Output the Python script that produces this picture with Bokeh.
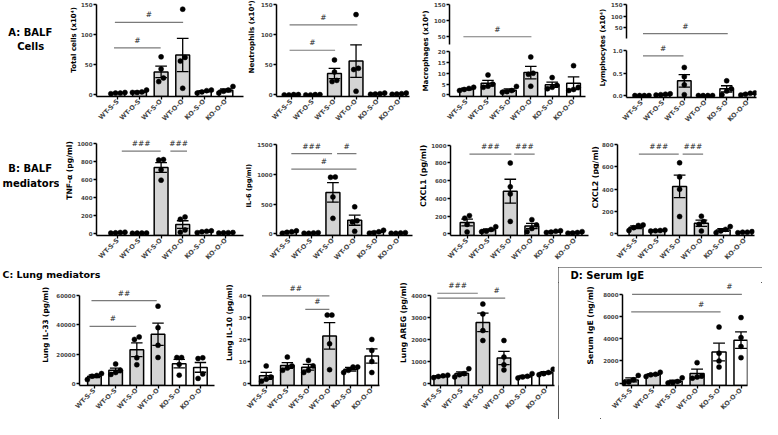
import math
from bokeh.plotting import figure
from bokeh.models import Range1d, FixedTicker, NumeralTickFormatter
from bokeh.layouts import row, column
from bokeh.embed import file_html
from bokeh.resources import INLINE
from bokeh.core.properties import value

# ---------------- data ----------------
categories = ["WT-S-S", "WT-O-S", "WT-S-O", "WT-O-O", "KO-S-O", "KO-O-O"]
is_ko = [False, False, False, False, True, True]

total_mean = [3, 5, 38, 66, 6, 7.5]
total_sem = [0.5, 1, 9.5, 27.5, 1, 2.3]
total_pts = [[2, 3, 3, 4], [4, 4, 5, 8], [63, 43, 28, 22], [142, 62, 56, 11], [3, 5, 7, 8], [3, 6, 8, 14]]
total_ticks = [0, 50, 100, 150]
total_sig = [(-0.18, 1.98, 78, "#", None), (-0.14, 3.02, 120, "#", None)]

neut_mean = [0.3, 0.3, 35.5, 56, 2, 2]
neut_sem = [0.1, 0.1, 8.5, 27, 0.5, 0.5]
neut_pts = [[0, 0.5, 0.5, 0], [0, 0.5, 0, 0.5], [58, 38, 24, 22], [133, 44, 42, 6], [1, 3, 2, 1.5], [2, 1, 3, 1.5]]
neut_ticks = [0, 50, 100, 150]
neut_sig = [(-0.08, 2.03, 74, "#", None), (-0.08, 3.06, 116, "#", None)]

macro_mean = [2.7, 5.4, 2.2, 10.3, 4.7, 5.4]
macro_sem = [0.4, 1.3, 0.6, 2.9, 1.2, 2.9]
macro_pts = [[3.5, 2.5, 3, 2], [9.2, 5, 4, 3.5], [3.9, 2, 1.5, 1.2], [17.5, 10, 9.5, 4], [8, 4.5, 3.5, 2.8], [13.5, 3.5, 2.5, 2]]
macro_ticks = [0, 5, 10, 15, 20]
macro_ticks_upper = [50, 100, 150]
macro_sig = []
macro_sig_upper = [(-0.15, 3.03, 48, "#", None)]

lymph_mean = [0.0, 0.02, 0.33, 0.0, 0.15, 0.04]
lymph_sem = [0.0, 0.01, 0.14, 0.0, 0.07, 0.01]
lymph_pts = [[0, 0, 0, 0], [0.02, 0.03, 0.01, 0.04], [0.63, 0.42, 0.24, 0.02], [0, 0, 0, 0], [0.33, 0.15, 0.1, 0.02], [0.06, 0.03, 0.01, 0.05]]
lymph_ticks = [0.0, 0.5, 1.0]
lymph_ticks_upper = [50, 100, 150]
lymph_sig = [(0.05, 1.96, 0.89, "#", None)]
lymph_sig_upper = [(0.05, 4.05, 25, "#", None)]

tnf_mean = [10, 5, 737, 100, 21, 9]
tnf_sem = [3, 1, 54, 43, 5, 2]
tnf_pts = [[15, 12, 8, 5], [5, 5, 4, 6], [825, 820, 710, 595], [160, 185, 40, 15], [30, 20, 25, 10], [10, 8, 12, 5]]
tnf_ticks = [0, 200, 400, 600, 800, 1000]
tnf_sig = [(0.18, 1.98, 919, "###", None), (2.43, 3.2, 919, "###", None)]

il6_mean = [30, 14, 696, 229, 32, 14]
il6_sem = [9, 3, 164, 85, 10, 3]
il6_pts = [[50, 35, 25, 10], [20, 15, 10, 10], [955, 950, 620, 260], [453, 220, 200, 42], [60, 35, 20, 12], [20, 15, 10, 10]]
il6_ticks = [0, 500, 1000, 1500]
il6_sig = [(0.09, 1.96, 1347, "###", None), (2.19, 3.08, 1347, "#", None), (0.09, 3.08, 1088, "#", None)]

cxcl1_mean = [127, 45, 480, 88, 25, 15]
cxcl1_sem = [38, 12, 135, 30, 6, 4]
cxcl1_pts = [[177, 205, 106, 21], [80, 50, 30, 25], [798, 530, 450, 140], [160, 100, 60, 25], [35, 30, 20, 15], [25, 15, 10, 8]]
cxcl1_ticks = [0, 200, 400, 600, 800, 1000]
cxcl1_sig = [(0.11, 2.05, 897, "###", None), (2.18, 3.13, 897, "###", None)]

cxcl2_mean = [60, 30, 425, 95, 35, 15]
cxcl2_sem = [12, 3, 100, 28, 12, 3]
cxcl2_pts = [[80, 75, 55, 30], [35, 30, 28, 25], [636, 510, 400, 155], [158, 110, 85, 25], [65, 40, 25, 10], [20, 15, 15, 10]]
cxcl2_ticks = [0, 200, 400, 600, 800]
cxcl2_sig = [(0.13, 1.96, 714, "###", None), (2.14, 3.08, 714, "###", None)]

il33_mean = [5000, 9000, 23000, 33500, 13500, 11000]
il33_sem = [900, 1500, 4700, 7500, 2900, 3300]
il33_pts = [[6800, 5500, 5000, 2700], [13300, 9000, 7500, 6200], [31700, 30000, 17500, 12800], [52600, 38000, 26000, 17700], [17700, 17700, 13000, 5700], [17500, 17000, 6500, 3500]]
il33_ticks = [0, 20000, 40000, 60000]
il33_sig = [(-0.23, 1.97, 38900, "#", None), (-0.14, 2.94, 56300, "##", None)]

il10_mean = [3.5, 8.2, 7.4, 21.6, 6.5, 12.5]
il10_sem = [1.6, 1.3, 1.3, 6.0, 0.8, 3.2]
il10_pts = [[8, 3, 2, 1], [12, 8, 7, 6], [10.5, 8, 6, 5], [31, 31, 18, 6.3], [7.5, 7.5, 6, 5], [20, 15, 10, 5]]
il10_ticks = [0, 10, 20, 30, 40]
il10_sig = [(-0.2, 2.99, 39.7, "##", None), (1.85, 2.99, 33.6, "#", None)]

areg_mean = [330, 454, 2770, 1160, 330, 500]
areg_sem = [30, 75, 420, 300, 45, 45]
areg_pts = [[380, 350, 320, 270], [670, 450, 400, 300], [3600, 3150, 2400, 1950], [1950, 1200, 850, 620], [450, 330, 300, 250], [650, 500, 450, 400]]
areg_ticks = [0, 1000, 2000, 3000, 4000]
areg_sig = [(-0.16, 1.76, 4090, "###", None), (-0.16, 3.06, 3870, "#", 2.65)]

ige_mean = [290, 780, 175, 870, 2800, 3870]
ige_sem = [180, 70, 90, 400, 800, 740]
ige_pts = [[700, 300, 100, 60], [980, 800, 750, 600], [480, 150, 50, 20], [1850, 650, 550, 450], [5050, 2700, 2000, 1450], [5900, 4100, 3300, 2300]]
ige_ticks = [0, 2000, 4000, 6000, 8000]
ige_sig = [(0.0, 4.07, 6410, "#", 3.19), (0.04, 5.04, 8000, "#", 4.47)]

# ---------------- layout geometry (reference pixels) ----------------
geom = {
    "total": dict(x0=60, x1=250, r0=0, r1=140, axis=97, end=248, c0=119, c5=230, y0=98, ytop=4, ymax=150, lcx=83, lcy=57.5, lfs=7.0),
    "neut": dict(x0=250, x1=422, r0=0, r1=140, axis=281, end=418, c0=296, c5=407, y0=98, ytop=4, ymax=150, lcx=256, lcy=53, lfs=7.1),
    "macro": dict(x0=422, x1=601, r0=0, r1=140, axis=457, end=597, c0=475, c5=585, y0=98, ytop=53, ymax=20,
                  up50=37, up150=4, seg_lo=23, split=49, lcx=433.5, lcy=52.5, lfs=7.2),
    "lymph": dict(x0=601, x1=778, r0=0, r1=140, axis=638, end=772, c0=654, c5=763, y0=98.7, ytop=52.3, ymax=1.0,
                  up50=28.3, up150=4, seg_lo=5, split=43, lcx=615.5, lcy=49, lfs=7.0),
    "tnf": dict(x0=60, x1=250, r0=140, r1=277, axis=97, end=248, c0=119, c5=230, y0=244, ytop=149, ymax=1000, lcx=73, lcy=188, lfs=7.6),
    "il6": dict(x0=250, x1=425, r0=140, r1=277, axis=281, end=421, c0=294, c5=406, y0=244.3, ytop=149.7, ymax=1500, lcx=252, lcy=209, lfs=6.6),
    "cxcl1": dict(x0=425, x1=602, r0=140, r1=277, axis=458, end=600, c0=475.5, c5=586.5, y0=244.3, ytop=150.3, ymax=1000, lcx=432.5, lcy=195.5, lfs=7.8),
    "cxcl2": dict(x0=602, x1=778, r0=140, r1=277, axis=629, end=770, c0=648, c5=760, y0=244.3, ytop=149.7, ymax=800, lcx=606, lcy=197.5, lfs=7.8),
    "il33": dict(x0=0, x1=222, r0=292, r1=435, axis=80, end=218, c0=95, c5=204, y0=397.7, ytop=306, ymax=60000, lcx=46, lcy=351.5, lfs=7.3),
    "il10": dict(x0=222, x1=395, r0=277, r1=435, axis=253, end=387, c0=269.5, c5=379, y0=397.7, ytop=306, ymax=40, lcx=233.5, lcy=351, lfs=7.4),
    "areg": dict(x0=395, x1=570, r0=277, r1=435, axis=438, end=566, c0=448.5, c5=557, y0=397.7, ytop=306, ymax=4000, lcx=422, lcy=351, lfs=7.6),
    "ige": dict(x0=570, x1=778, r0=293, r1=435, axis=634, end=763, c0=643, c5=756, y0=397.3, ytop=305, ymax=8000, lcx=602.5, lcy=352, lfs=7.7),
}

FONT = "DejaVu Sans"
WT_FILL = "#d4d4d4"
KO_FILL = "#ffffff"
SIG_COLOR = "#7a7a7a"
SX = 762 / 778
SY = 419 / 435
PAD = 2.0
DOT = 5.0
BAR_W = 0.64
CAP = 0.27
TICK_FS = 5.5
XLAB_FS = "6.5px"
DIGIT_EM = 0.696
DOT_EM = 0.380


def swarm(vals, k, s):
    order = sorted(range(len(vals)), key=lambda j: vals[j])
    clusters = [[order[0]]]
    for j in order[1:]:
        if (vals[j] - vals[clusters[-1][-1]]) * k < DOT:
            clusters[-1].append(j)
        else:
            clusters.append([j])
    offs = [0.0] * len(vals)
    for cl in clusters:
        n = len(cl)
        for m, j in enumerate(cl):
            offs[j] = (m - (n - 1) / 2) * DOT * 0.95 / s
    return offs


def tick_text_width(ticks, fmt):
    w = 0.0
    for t in ticks:
        txt = ("%.1f" % t) if fmt == "0.0" else str(int(round(t)))
        w = max(w, sum(DOT_EM if ch == "." else DIGIT_EM for ch in txt) * TICK_FS)
    return w


def style_y(ax, ticks, fmt):
    ax.ticker = FixedTicker(ticks=ticks)
    ax.formatter = NumeralTickFormatter(format=fmt)
    ax.major_tick_out = 3
    ax.major_tick_in = 0
    ax.minor_tick_line_color = None
    ax.major_tick_line_width = 1.3
    ax.axis_line_width = 1.5
    ax.major_label_text_font = FONT
    ax.major_label_text_font_style = "bold"
    ax.major_label_text_font_size = "%gpx" % TICK_FS
    ax.major_label_standoff = 1


def style_x(ax):
    ax.ticker = FixedTicker(ticks=list(range(len(categories))))
    ax.major_label_overrides = {i: c for i, c in enumerate(categories)}
    ax.major_label_orientation = math.pi / 4
    ax.major_tick_out = 3
    ax.major_tick_in = 0
    ax.minor_tick_line_color = None
    ax.major_tick_line_width = 1.3
    ax.axis_line_width = 1.5
    ax.major_label_text_font = FONT
    ax.major_label_text_font_style = "bold"
    ax.major_label_text_font_size = XLAB_FS
    ax.major_label_standoff = 1


def new_fig(W, H, L, R, T, B, xr, yr, xaxis=True):
    p = figure(width=W, height=H, x_range=xr, y_range=yr, output_backend="svg", toolbar_location=None,
               min_border_left=L, min_border_right=R, min_border_top=T, min_border_bottom=B,
               x_axis_location=("below" if xaxis else None))
    p.outline_line_color = None
    p.grid.visible = False
    p.background_fill_color = "white"
    p.border_fill_color = "white"
    if xaxis:
        style_x(p.xaxis[0])
    return p


def blank_fig(W, H):
    p = figure(width=W, height=H, x_range=Range1d(0, W), y_range=Range1d(0, H),
               x_axis_location=None, y_axis_location=None, output_backend="svg",
               toolbar_location=None, min_border=0)
    p.outline_line_color = None
    p.grid.visible = False
    p.background_fill_color = "white"
    p.border_fill_color = "white"
    return p


def ylabel_fig(x0_px, x1_px, ry0, ry1, text, cx_px, cy_px, fs):
    W = x1_px - x0_px
    H = ry1 - ry0
    p = blank_fig(W, H)
    half = 0.6 * fs
    xc = max(half, min(cx_px - x0_px, W - half))
    p.text(x=[xc], y=[H - (cy_px - ry0)], text=[text], angle=math.pi / 2,
           text_font=value(FONT), text_font_style="bold", text_font_size="%.2fpx" % fs,
           text_align="center", text_baseline="middle", text_color="black")
    return p


def xgeom(g, fx0):
    fx1 = round(g["x1"] * SX)
    W = fx1 - fx0
    L = round(g["axis"] * SX) - fx0
    R = fx1 - round(g["end"] * SX)
    s = (g["c5"] - g["c0"]) / 5 * SX
    fl = fx0 + L
    xs = -(g["c0"] * SX - fl) / s
    xe = xs + (W - L - R) / s
    return W, L, R, s, xs, xe


def split_x(g, ticks, fmt):
    sx0 = round(g["x0"] * SX)
    ax_px = round(g["axis"] * SX)
    need = 3 + 1 + int(math.ceil(tick_text_width(ticks, fmt))) + 1
    return sx0, ax_px - need


def draw_data(p, mean, sem, pts, k, s, ys):
    idx = list(range(len(categories)))
    fills = [KO_FILL if ko else WT_FILL for ko in is_ko]
    p.vbar(x=idx, width=BAR_W, top=mean, bottom=ys, fill_color=fills, line_color="black", line_width=1.5)
    lo = [m - e for m, e in zip(mean, sem)]
    hi = [m + e for m, e in zip(mean, sem)]
    p.segment(x0=idx, y0=lo, x1=idx, y1=hi, line_color="black", line_width=1.3)
    p.segment(x0=[i - CAP for i in idx], y0=hi, x1=[i + CAP for i in idx], y1=hi, line_color="black", line_width=1.3)
    p.segment(x0=[i - CAP for i in idx], y0=lo, x1=[i + CAP for i in idx], y1=lo, line_color="black", line_width=1.3)
    px, py = [], []
    for i, grp in enumerate(pts):
        offs = swarm(grp, k, s)
        for v, o in zip(grp, offs):
            px.append(i + o)
            py.append(v)
    p.scatter(x=px, y=py, size=DOT, marker="circle", fill_color="black", line_color="black", line_width=0.5)


def draw_sig(p, items):
    if not items:
        return
    x0s = [a for a, b, y, t, tx in items]
    x1s = [b for a, b, y, t, tx in items]
    yv = [y for a, b, y, t, tx in items]
    txs = [((a + b) / 2 if tx is None else tx) for a, b, y, t, tx in items]
    p.segment(x0=x0s, y0=yv, x1=x1s, y1=yv, line_color=SIG_COLOR, line_width=1.2)
    p.text(x=txs, y=yv, text=[t for a, b, y, t, tx in items], text_font=value(FONT),
           text_font_size="7.5px", text_align="center", text_baseline="bottom", y_offset=-3,
           text_color="#222222")


def build(key, mean, sem, pts, yticks, title, sig, fmt="0"):
    g = geom[key]
    sx0, lab_r = split_x(g, yticks, fmt)
    W, L, R, s, xs, xe = xgeom(g, lab_r)
    ry0 = round(g["r0"] * SY)
    ry1 = round(g["r1"] * SY)
    H = ry1 - ry0
    py0 = g["y0"] * SY
    fb = round(py0 + PAD)
    B = ry1 - fb
    k = (py0 - g["ytop"] * SY) / g["ymax"]
    ye = (py0 - ry0) / k
    ys = -(fb - py0) / k
    p = new_fig(W, H, L, R, 0, B, Range1d(xs, xe), Range1d(ys, ye))
    style_y(p.yaxis[0], yticks, fmt)
    p.yaxis[0].bounds = (ys, g["ymax"])
    draw_data(p, mean, sem, pts, k, s, ys)
    draw_sig(p, sig)
    lab = ylabel_fig(sx0, lab_r, ry0, ry1, title, g["lcx"] * SX, g["lcy"] * SY, g["lfs"])
    return row(lab, p)


def build_broken(key, mean, sem, pts, yticks, upper_ticks, title, sig, sig_upper, fmt):
    g = geom[key]
    sx0, lab_r = split_x(g, yticks + upper_ticks, "0")
    W, L, R, s, xs, xe = xgeom(g, lab_r)
    ry0 = round(g["r0"] * SY)
    ry1 = round(g["r1"] * SY)
    rs = round(g["split"] * SY)
    ku = (g["up50"] - g["up150"]) * SY / 100.0

    def uval(px):
        return 50 + (g["up50"] * SY - px) / ku
    top = new_fig(W, rs - ry0, L, R, 0, 0, Range1d(xs, xe), Range1d(uval(rs), uval(ry0)), xaxis=False)
    style_y(top.yaxis[0], upper_ticks, "0")
    top.yaxis[0].bounds = (g["seg_lo"], 150)
    draw_sig(top, sig_upper)
    py0 = g["y0"] * SY
    fb = round(py0 + PAD)
    B = ry1 - fb
    k = (py0 - g["ytop"] * SY) / g["ymax"]
    ye = (py0 - rs) / k
    ys = -(fb - py0) / k
    bot = new_fig(W, ry1 - rs, L, R, 0, B, Range1d(xs, xe), Range1d(ys, ye))
    style_y(bot.yaxis[0], yticks, fmt)
    bot.yaxis[0].bounds = (ys, g["ymax"])
    draw_data(bot, mean, sem, pts, k, s, ys)
    draw_sig(bot, sig)
    lab = ylabel_fig(sx0, lab_r, ry0, ry1, title, g["lcx"] * SX, g["lcy"] * SY, g["lfs"])
    return row(lab, column(top, bot))


def text_fig(x0, x1, y0, y1, items):
    fx0 = round(x0 * SX)
    fy0 = round(y0 * SY)
    W = round(x1 * SX) - fx0
    H = round(y1 * SY) - fy0
    p = blank_fig(W, H)
    for text, lx, cy, size in items:
        p.text(x=[lx * SX - fx0], y=[H - (cy * SY - fy0)], text=[text],
               text_font=value(FONT), text_font_style="bold", text_font_size=size,
               text_align="left", text_baseline="middle", text_color="black")
    return p


labA = text_fig(0, 60, 0, 140, [("A: BALF", 8, 33, "10px"), ("Cells", 17, 48, "10px")])
labB = text_fig(0, 60, 140, 277, [("B: BALF", 8, 174, "10px"), ("mediators", 2, 190, "10px")])
labC = text_fig(0, 222, 277, 292, [("C: Lung mediators", 2, 284, "9.5px")])
labD = text_fig(570, 778, 277, 293, [("D: Serum IgE", 582, 285.5, "10px")])

p1 = build("total", total_mean, total_sem, total_pts, total_ticks, "Total cells (x10⁴)", total_sig)
p2 = build("neut", neut_mean, neut_sem, neut_pts, neut_ticks, "Neutrophils (x10⁴)", neut_sig)
p3 = build_broken("macro", macro_mean, macro_sem, macro_pts, macro_ticks, macro_ticks_upper,
                  "Macrophages (x10⁴)", macro_sig, macro_sig_upper, "0")
p4 = build_broken("lymph", lymph_mean, lymph_sem, lymph_pts, lymph_ticks, lymph_ticks_upper,
                  "Lymphocytes (x10⁴)", lymph_sig, lymph_sig_upper, "0.0")
p5 = build("tnf", tnf_mean, tnf_sem, tnf_pts, tnf_ticks, "TNF-α (pg/ml)", tnf_sig)
p6 = build("il6", il6_mean, il6_sem, il6_pts, il6_ticks, "IL-6 (pg/ml)", il6_sig)
p7 = build("cxcl1", cxcl1_mean, cxcl1_sem, cxcl1_pts, cxcl1_ticks, "CXCL1 (pg/ml)", cxcl1_sig)
p8 = build("cxcl2", cxcl2_mean, cxcl2_sem, cxcl2_pts, cxcl2_ticks, "CXCL2 (pg/ml)", cxcl2_sig)
p9 = build("il33", il33_mean, il33_sem, il33_pts, il33_ticks, "Lung IL-33 (pg/ml)", il33_sig)
p10 = build("il10", il10_mean, il10_sem, il10_pts, il10_ticks, "Lung IL-10 (pg/ml)", il10_sig)
p11 = build("areg", areg_mean, areg_sem, areg_pts, areg_ticks, "Lung AREG (pg/ml)", areg_sig)
p12 = build("ige", ige_mean, ige_sem, ige_pts, ige_ticks, "Serum IgE (ng/ml)", ige_sig)

boxD = column(labD, p12, styles={"outline": "1px solid #222222", "outline-offset": "-1px"})

layout = column(
    row(labA, p1, p2, p3, p4),
    row(labB, p5, p6, p7, p8),
    row(column(labC, p9), p10, p11, boxD),
)

open("out.html", "w").write(file_html(layout, INLINE))
